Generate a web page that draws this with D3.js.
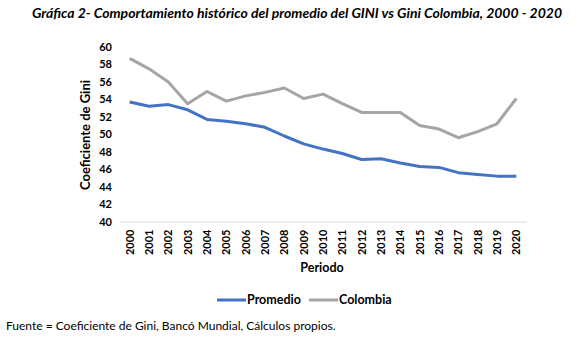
<!DOCTYPE html>
<html>
<head>
<meta charset="utf-8">
<script src="https://cdn.jsdelivr.net/npm/d3@7"></script>
<style>
  body { margin: 0; background: #fff; }
  text { font-family: Lato, "Open Sans", sans-serif; }
</style>
</head>
<body>
<div class="chart"></div>
<script>
var years = ["2000","2001","2002","2003","2004","2005","2006","2007","2008","2009","2010",
             "2011","2012","2013","2014","2015","2016","2017","2018","2019","2020"];
var promedio = [53.7, 53.2, 53.4, 52.8, 51.7, 51.5, 51.2, 50.8, 49.8, 48.9, 48.3,
                47.8, 47.1, 47.2, 46.7, 46.3, 46.2, 45.6, 45.4, 45.2, 45.2];
var colombia = [58.7, 57.5, 56.0, 53.5, 54.9, 53.8, 54.4, 54.8, 55.3, 54.1, 54.6,
                53.5, 52.5, 52.5, 52.5, 51.0, 50.6, 49.6, 50.3, 51.2, 54.1];
var yTicks = [40, 42, 44, 46, 48, 50, 52, 54, 56, 58, 60];
var seriesNames = ["Promedio", "Colombia"];
var seriesColors = ["#4472C4", "#A5A5A5"];

var svgWidth = 584;
var svgHeight = 337;

var svg = d3.select(".chart")
    .append("svg")
    .attr("width", svgWidth)
    .attr("height", svgHeight);

// title
svg.append("text")
    .attr("x", 297)
    .attr("y", 18)
    .attr("text-anchor", "middle")
    .style("font-size", "14px")
    .style("font-weight", "bold")
    .style("font-style", "italic")
    .text("Gráfica 2- Comportamiento histórico del promedio del GINI vs Gini Colombia, 2000 - 2020");

// scales
var x = d3.scaleBand()
    .domain(years)
    .range([120, 526]);

var y = d3.scaleLinear()
    .domain([40, 60])
    .range([221.5, 47]);

// y axis labels (no line)
var leftAxis = d3.axisLeft(y).tickValues(yTicks).tickSize(0).tickPadding(0);
var gy = svg.append("g")
    .attr("transform", "translate(112,0)")
    .call(leftAxis);
gy.select(".domain").remove();
gy.selectAll("text")
    .style("font-size", "11px")
    .style("font-weight", "bold")
    .style("font-family", "Lato, sans-serif")
    .attr("fill", "#000");

// x axis
var bottomAxis = d3.axisBottom(x).tickSize(0).tickPadding(0);
var gx = svg.append("g")
    .attr("transform", "translate(0,221.5)")
    .call(bottomAxis);
gx.select(".domain").attr("stroke", "#d9d9d9");
gx.selectAll("text")
    .style("font-size", "11px")
    .style("font-weight", "bold")
    .style("font-family", "Lato, sans-serif")
    .attr("fill", "#000")
    .attr("text-anchor", "end")
    .attr("dy", "0.35em")
    .attr("transform", "translate(0,8) rotate(-90)");

// lines
var line = d3.line()
    .x(function(d, i) { return x(years[i]) + x.bandwidth() / 2; })
    .y(function(d) { return y(d); });

[promedio, colombia].forEach(function(data, i) {
    svg.append("path")
        .datum(data)
        .attr("fill", "none")
        .attr("stroke", seriesColors[i])
        .attr("stroke-width", 3)
        .attr("stroke-linejoin", "round")
        .attr("d", line);
});

// axis titles
svg.append("text")
    .attr("transform", "translate(90,135) rotate(-90)")
    .attr("text-anchor", "middle")
    .style("font-size", "13px")
    .style("font-weight", "bold")
    .text("Coeficiente de Gini");

svg.append("text")
    .attr("x", 322)
    .attr("y", 272)
    .attr("text-anchor", "middle")
    .style("font-size", "12.5px")
    .style("font-weight", "bold")
    .text("Periodo");

// legend
var legendX = [217, 309];
seriesNames.forEach(function(name, i) {
    svg.append("line")
        .attr("x1", legendX[i])
        .attr("x2", legendX[i] + 29)
        .attr("y1", 300)
        .attr("y2", 300)
        .attr("stroke", seriesColors[i])
        .attr("stroke-width", 3);
    svg.append("text")
        .attr("x", legendX[i] + 30)
        .attr("y", 304)
        .style("font-size", "12.5px")
        .style("font-weight", "bold")
        .text(name);
});

// source
svg.append("text")
    .attr("x", 6)
    .attr("y", 330)
    .style("font-size", "12px")
    .text("Fuente = Coeficiente de Gini, Bancó Mundial, Cálculos propios.");
</script>
</body>
</html>
